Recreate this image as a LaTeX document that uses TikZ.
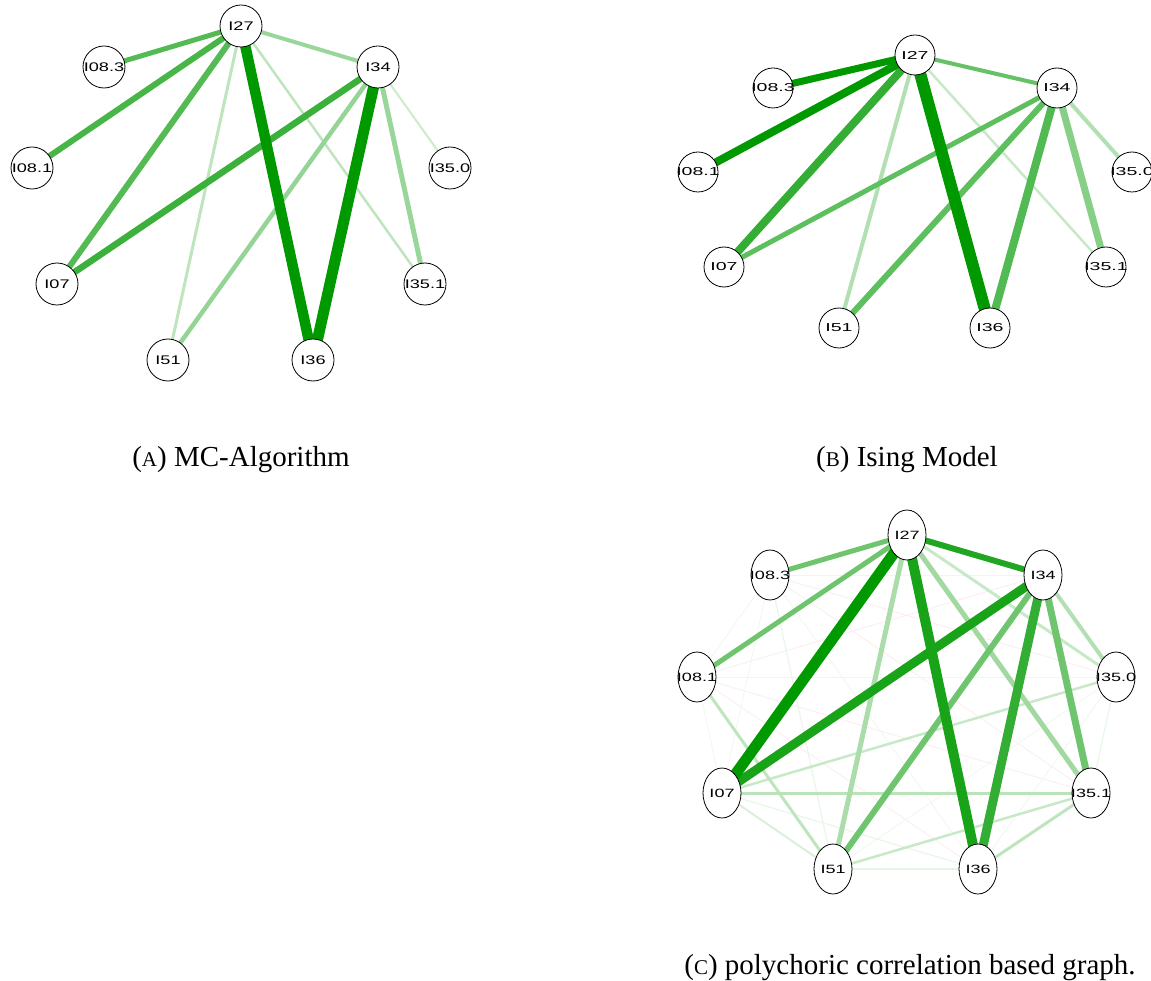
\documentclass[tikz,border=0pt]{standalone}
\usepackage{graphicx}
\usepackage{fontspec}
\setmainfont{Liberation Serif}
\newfontfamily\nodefont{Liberation Sans}
\usetikzlibrary{shapes.geometric}
\pgfdeclarelayer{edges}
\pgfsetlayers{edges,main}
\definecolor{qg}{HTML}{009900}
\definecolor{qneg}{HTML}{CC3355}
% small-capital letter inside the sub-captions
\newcommand\capsc[1]{{\fontsize{21}{24}\selectfont #1}}
% horizontally stretched node label of zero width, so the shape keeps its size
\newcommand\lab[2]{\makebox[0pt]{\scalebox{#1}[1]{#2}}}
% edge: from, to, width (pt), green strength (percent)
\newcommand\E[4]{\draw[line width=#3pt, qg!#4] (#1.center) -- (#2.center);}
% weak negative edge: from, to, width (pt)
\newcommand\Nd[3]{\draw[line width=#3pt, qneg!8] (#1.center) -- (#2.center);}
\tikzset{
  vA/.style={circle, draw, line width=0.8pt, fill=white, minimum size=42pt,
    inner sep=0pt, font=\nodefont\fontsize{12.5}{14}\selectfont},
  vB/.style={circle, draw, line width=0.8pt, fill=white, minimum size=40pt,
    inner sep=0pt, font=\nodefont\fontsize{11.5}{13}\selectfont},
  vC/.style={ellipse, draw, line width=0.8pt, fill=white, minimum width=38pt,
    minimum height=50pt, inner sep=0pt, font=\nodefont\fontsize{12}{14}\selectfont},
  subcap/.style={font=\fontsize{29}{34}\selectfont, inner sep=0pt, anchor=base}
}
\begin{document}
\begin{tikzpicture}[x=1pt, y=-1pt]
\useasboundingbox (0,0) rectangle (1151,981);

% ---------------- (a) MC-Algorithm ----------------
\node[vA] (A27)  at (241,26)  {\lab{1.45}{I27}};
\node[vA] (A083) at (104,67)  {\lab{1.45}{I08.3}};
\node[vA] (A34)  at (378,67)  {\lab{1.45}{I34}};
\node[vA] (A081) at (32,168)  {\lab{1.45}{I08.1}};
\node[vA] (A350) at (450,168) {\lab{1.45}{I35.0}};
\node[vA] (A07)  at (57,284)  {\lab{1.45}{I07}};
\node[vA] (A351) at (425,284) {\lab{1.45}{I35.1}};
\node[vA] (A51)  at (168,360) {\lab{1.45}{I51}};
\node[vA] (A36)  at (313,360) {\lab{1.45}{I36}};
\begin{pgfonlayer}{edges}
\E{A34}{A350}{2}{20}
\E{A27}{A351}{2.5}{25}
\E{A27}{A51}{3}{25}
\E{A27}{A34}{4}{40}
\E{A34}{A51}{4.5}{42}
\E{A34}{A351}{5}{40}
\E{A27}{A083}{5}{67}
\E{A27}{A07}{6}{67}
\E{A27}{A081}{6}{72}
\E{A34}{A07}{6.5}{77}
\E{A27}{A36}{10.5}{100}
\E{A34}{A36}{11}{100}
\end{pgfonlayer}
\node[subcap] (capA) at (241,466) {(\capsc{A}) MC-Algorithm};

% ---------------- (b) Ising Model ----------------
\node[vB] (B27)  at (915,55)   {\lab{1.7}{I27}};
\node[vB] (B083) at (773,88)   {\lab{1.7}{I08.3}};
\node[vB] (B34)  at (1057,88)  {\lab{1.7}{I34}};
\node[vB] (B081) at (698,172)  {\lab{1.7}{I08.1}};
\node[vB] (B350) at (1132,172) {\lab{1.7}{I35.0}};
\node[vB] (B07)  at (724,267)  {\lab{1.7}{I07}};
\node[vB] (B351) at (1106,267) {\lab{1.7}{I35.1}};
\node[vB] (B51)  at (839,328)  {\lab{1.7}{I51}};
\node[vB] (B36)  at (990,328)  {\lab{1.7}{I36}};
\begin{pgfonlayer}{edges}
\E{B27}{B351}{2.5}{22}
\E{B27}{B51}{4}{30}
\E{B34}{B350}{4}{30}
\E{B27}{B34}{4}{60}
\E{B34}{B07}{5}{63}
\E{B34}{B51}{6}{63}
\E{B34}{B351}{7}{47}
\E{B34}{B36}{8}{68}
\E{B27}{B07}{8}{80}
\E{B27}{B083}{7}{100}
\E{B27}{B081}{8}{100}
\E{B27}{B36}{12}{100}
\end{pgfonlayer}
\node[subcap] (capB) at (907,466) {(\capsc{B}) Ising Model};

% ---------------- (c) polychoric correlations ----------------
\node[vC] (C27)  at (907,535)  {\lab{1.5}{I27}};
\node[vC] (C083) at (770,575)  {\lab{1.5}{I08.3}};
\node[vC] (C34)  at (1043,575) {\lab{1.5}{I34}};
\node[vC] (C081) at (697,677)  {\lab{1.5}{I08.1}};
\node[vC] (C350) at (1116,677) {\lab{1.5}{I35.0}};
\node[vC] (C07)  at (722,793)  {\lab{1.5}{I07}};
\node[vC] (C351) at (1091,793) {\lab{1.5}{I35.1}};
\node[vC] (C51)  at (833,869)  {\lab{1.5}{I51}};
\node[vC] (C36)  at (978,869)  {\lab{1.5}{I36}};
\begin{pgfonlayer}{edges}
% weak negative associations
\Nd{C083}{C34}{1}
\Nd{C083}{C350}{1}
\Nd{C083}{C351}{1}
\Nd{C081}{C34}{1}
\Nd{C081}{C350}{1}
\Nd{C081}{C351}{1}
\Nd{C081}{C36}{1}
% weak positive associations
\E{C083}{C081}{1}{6}
\E{C083}{C07}{1}{6}
\E{C083}{C51}{1.2}{9}
\E{C083}{C36}{1}{6}
\E{C081}{C07}{1}{6}
\E{C350}{C351}{1.2}{9}
\E{C350}{C51}{1}{6}
\E{C350}{C36}{1}{6}
\E{C07}{C36}{1.2}{9}
\E{C51}{C36}{1.5}{10}
\E{C07}{C51}{2}{15}
% moderate and strong associations
\E{C07}{C350}{2.5}{22}
\E{C51}{C351}{2.5}{22}
\E{C36}{C351}{3}{25}
\E{C081}{C51}{3}{25}
\E{C07}{C351}{3}{27}
\E{C27}{C350}{3}{22}
\E{C34}{C350}{4}{30}
\E{C27}{C51}{5}{33}
\E{C27}{C351}{5}{37}
\E{C27}{C083}{5}{57}
\E{C27}{C081}{5}{57}
\E{C34}{C51}{6}{57}
\E{C34}{C351}{7}{57}
\E{C27}{C34}{6}{87}
\E{C34}{C36}{9}{80}
\E{C34}{C07}{9}{90}
\E{C27}{C36}{10}{90}
\E{C27}{C07}{11}{100}
\end{pgfonlayer}
\node[subcap] (capC) at (910,974) {(\capsc{C}) polychoric correlation based graph.};
\end{tikzpicture}
\end{document}
